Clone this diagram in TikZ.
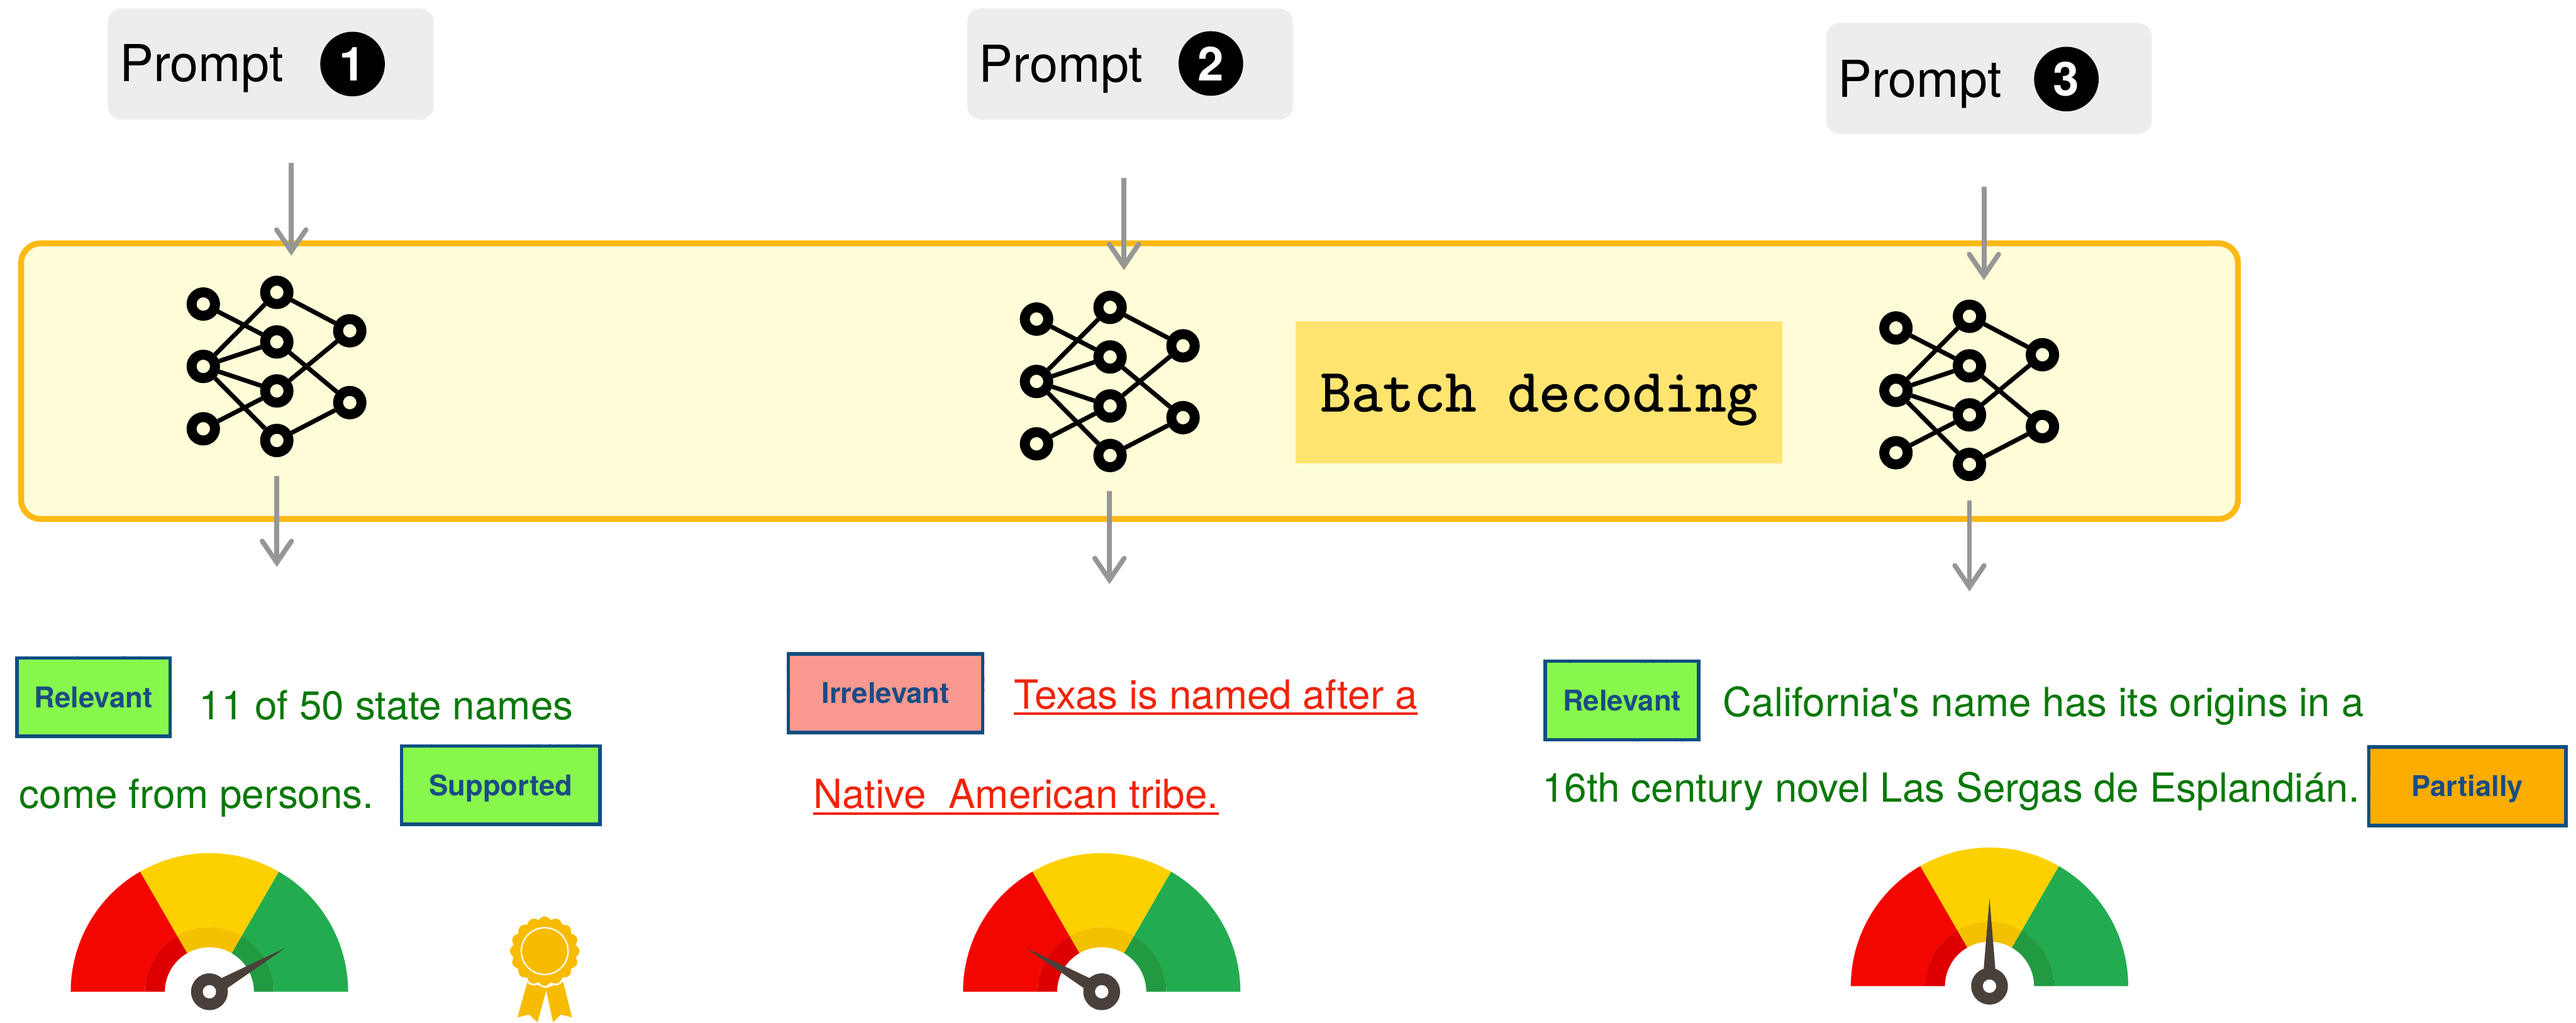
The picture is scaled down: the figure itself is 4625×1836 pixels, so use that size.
\documentclass[tikz,border=0pt]{standalone}
\usepackage{fontspec}
\setmainfont{TeX Gyre Heros}
\newfontfamily\helv{TeX Gyre Heros}
\newfontfamily\typefont{Latin Modern Mono}[FakeBold=1.5]
\usetikzlibrary{arrows.meta, decorations.pathmorphing}
\definecolor{promptgrau}{HTML}{ECEEED}
\definecolor{rahmen}{HTML}{FDB913}
\definecolor{flaeche}{HTML}{FFFDD8}
\definecolor{batchgelb}{HTML}{FFE470}
\definecolor{pfeilgrau}{HTML}{969696}
\definecolor{tagrand}{HTML}{0F4E82}
\definecolor{tagtext}{HTML}{1A4C84}
\definecolor{tagok}{HTML}{87F74C}
\definecolor{tagno}{HTML}{F99990}
\definecolor{tagteil}{HTML}{FCAD00}
\definecolor{gruentext}{HTML}{0A780A}
\definecolor{rottext}{HTML}{F0240A}
\definecolor{trot}{HTML}{F40600}
\definecolor{trotdunkel}{HTML}{DE0000}
\definecolor{tgelb}{HTML}{FDD100}
\definecolor{tgelbdunkel}{HTML}{F4C100}
\definecolor{tgruen}{HTML}{22AC4F}
\definecolor{tgruendunkel}{HTML}{229A42}
\definecolor{zeiger}{HTML}{4A403A}
\definecolor{orden}{HTML}{F7BC00}

\begin{document}
\begin{tikzpicture}[
    x=0.1mm, y=-0.1mm,
    every node/.style={inner sep=0pt},
    prompt/.style={fill=promptgrau, rounded corners=2.5mm,
      minimum width=58.5mm, minimum height=20mm},
    wort/.style={anchor=base west, font=\fontsize{26}{30}\selectfont},
    nummer/.style={circle, fill=black, minimum size=11.6mm, text=white,
      font=\bfseries\fontsize{24}{24}\selectfont},
    pfeil/.style={draw=pfeilgrau, line width=2.5pt,
      -{Straight Barb[length=11pt, width=15pt, line cap=round]}},
    neuron/.style={circle, draw=black, fill=flaeche, line width=5.1pt,
      minimum size=4.2mm},
    kante/.style={black, line width=2.3pt},
    batch/.style={fill=batchgelb, minimum width=87.3mm, minimum height=25.5mm,
      font=\typefont\fontsize{31}{31}\selectfont, text height=19pt, text depth=0pt},
    kratzig/.style={sharp corners, decorate,
      decoration={random steps, segment length=1.2pt, amplitude=0.45pt}},
    tag/.style={draw=tagrand, line width=1.8pt,
      postaction={draw=tagrand, line width=0.9pt, kratzig},
      minimum height=14.1mm, text=tagtext, text height=10.5pt, text depth=0pt,
      font=\helv\bfseries\fontsize{14.6}{16}\selectfont},
    satz/.style={anchor=base west, text=gruentext,
      font=\helv\fontsize{20.5}{24}\selectfont},
    % Netz-Symbol
    nnetz/.pic={
      \foreach \n/\y in {1/-112, 2/0, 3/112}
        \node[neuron] (-i\n) at (0,\y) {};
      \foreach \n/\y in {1/-133, 2/-44, 3/44, 4/133}
        \node[neuron] (-h\n) at (132,\y) {};
      \foreach \n/\y in {1/-64, 2/65}
        \node[neuron] (-o\n) at (263,\y) {};
      \foreach \a/\b in {i1/h2, i2/h1, i2/h2, i2/h3, i2/h4, i3/h3,
                         h1/o1, h2/o2, h3/o1, h4/o2}
        \draw[kante] (-\a) -- (-\b);
    },
    % Tacho, #1 = Zeigerwinkel
    tacho/.pic={
      \begin{scope}[yscale=-1]
        \foreach \a/\b/\farbe/\innen in {0/60/tgruen/tgruendunkel,
            60/120/tgelb/tgelbdunkel, 120/180/trot/trotdunkel} {
          \fill[\farbe] (\a:116) arc[start angle=\a, end angle=\b, radius=116]
            -- (\b:249) arc[start angle=\b, end angle=\a, radius=249] -- cycle;
          \fill[\innen] (\a:80) arc[start angle=\a, end angle=\b, radius=80]
            -- (\b:116) arc[start angle=\b, end angle=\a, radius=116] -- cycle;
        }
        \fill[zeiger] (#1:158) -- (#1+90:13) -- (#1-90:13) -- cycle;
        \fill[zeiger] (0,0) circle[radius=33];
        \fill[white] (0,0) circle[radius=12];
      \end{scope}
    },
  ]
  \pgfmathsetseed{7}
  \useasboundingbox (0,0) rectangle (4625,1836);

  % Rahmen fuer das Batch-Decoding
  \filldraw[fill=flaeche, draw=rahmen, line width=3pt, rounded corners=3.5mm,
            postaction={draw=rahmen, line width=1.2pt, kratzig}]
    (38,437) rectangle (4018,932);
  \node[batch] (dec) at (2763,705) {Batch decoding};

  % drei Modelle
  \pic (netz1) at (365,658) {nnetz};
  \pic (netz2) at (1861,685) {nnetz};
  \pic (netz3) at (3404,701) {nnetz};

  % Prompts
  \node[prompt] (p1) at (486,115) {};
  \node[prompt] (p2) at (2029,115) {};
  \node[prompt] (p3) at (3571,141) {};
  \node[wort] (w1) at (214,146) {Prompt};
  \node[wort] (w2) at (1757,147) {Prompt};
  \node[wort] (w3) at (3299,174) {Prompt};
  \node[nummer] (n1) at (633,115) {1};
  \node[nummer] (n2) at (2174,114) {2};
  \node[nummer] (n3) at (3710,142) {3};

  % Pfeile rein und raus
  \foreach \k/\xo/\yo/\yu/\xa/\ya/\yb in {1/523/293/459/497/855/1018,
      2/2018/319/485/1992/882/1049, 3/3562/335/503/3536/899/1062} {
    \coordinate (ein\k) at (\xo,\yo);
    \coordinate (ziel\k) at (\xo,\yu);
    \coordinate (aus\k) at (\xa,\ya);
    \coordinate (ende\k) at (\xa,\yb);
    \draw[pfeil] (ein\k) -- (ziel\k);
    \draw[pfeil] (aus\k) -- (ende\k);
  }

  % Antwort 1
  \node[tag, fill=tagok, minimum width=27.5mm] (t1a) at (168,1252) {Relevant};
  \node[satz] (s1a) at (357,1292) {11 of 50 state names};
  \node[satz] (s1b) at (34,1452) {come from persons.};
  \node[tag, fill=tagok, minimum width=35.6mm] (t1b) at (899,1410) {Supported};

  % Antwort 2 (unterstrichen)
  \node[tag, fill=tagno, minimum width=34.9mm] (t2a) at (1590,1245) {Irrelevant};
  \node[satz, text=rottext] (s2a) at (1820,1273) {Texas is named after a};
  \node[satz, text=rottext] (s2b) at (1460,1452) {Native\ \ American tribe.};
  \foreach \s in {s2a, s2b}
    \draw[rottext, line width=1.4pt]
      ([yshift=-2.5pt]\s.base west) -- ([yshift=-2.5pt]\s.base east);

  % Antwort 3
  \node[tag, fill=tagok, minimum width=27.6mm] (t3a) at (2912,1258) {Relevant};
  \node[satz] (s3a) at (3093,1287) {California's name has its origins in a};
  \node[satz] (s3b) at (2768,1440) {16th century novel Las Sergas de Esplandián.};
  \node[tag, fill=tagteil, minimum width=35.4mm] (t3b) at (4430,1412) {Partially};

  % Tachos
  \pic at (376,1781) {tacho=30};
  \pic at (1978,1781) {tacho=150};
  \pic at (3572,1771) {tacho=90};

  % Orden
  \fill[orden] (947,1763) -- (982,1774) -- (965,1836) -- (950,1822) -- (929,1827) -- cycle;
  \fill[orden] (980,1775) -- (1011,1763) -- (1027,1827) -- (1007,1822) -- (993,1836) -- cycle;
  \filldraw[fill=orden, draw=white, line width=0.9pt, shift={(978,1708)}]
    plot[domain=0:360, samples=161] (\x:{59+5*abs(cos(8*\x))}) -- cycle;
  \draw[white, line width=0.7pt] (978,1708) circle[radius=42];
\end{tikzpicture}
\end{document}
